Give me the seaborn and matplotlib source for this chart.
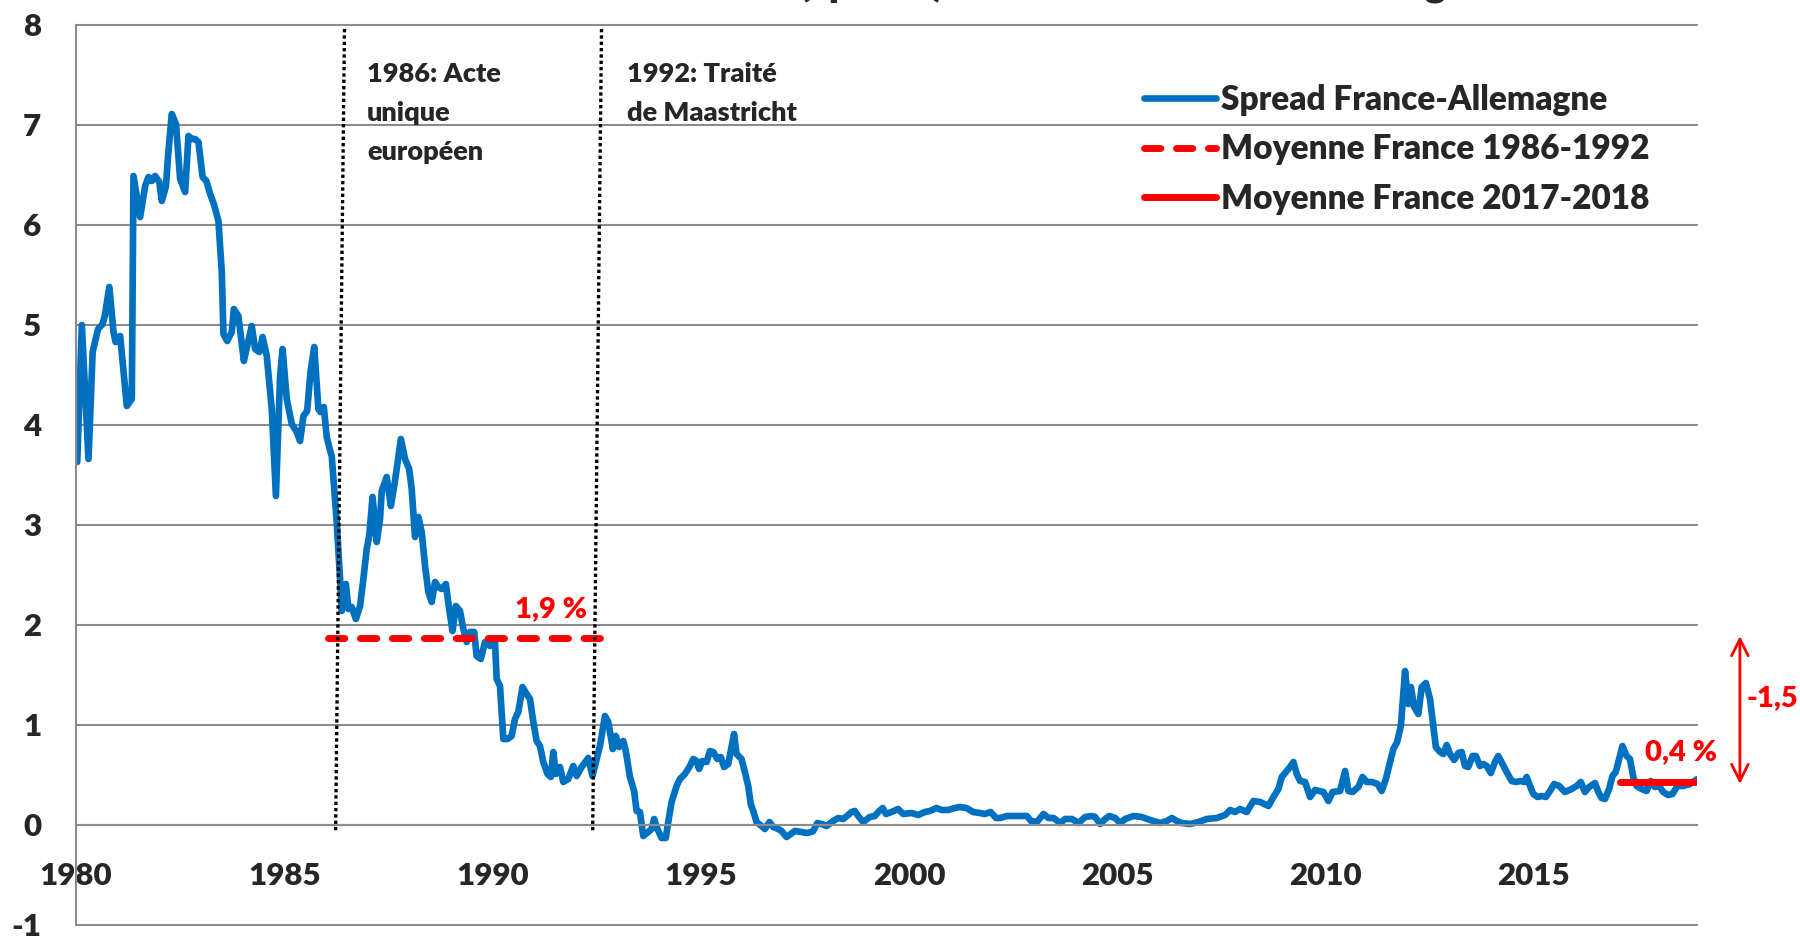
import matplotlib
matplotlib.use("Agg")
import matplotlib.pyplot as plt
import pandas as pd
import seaborn as sns

# spread de taux 10 ans France - Allemagne (année décimale)
annees = [
    1980.03, 1980.14, 1980.30, 1980.40, 1980.53, 1980.64, 1980.69, 1980.80, 1980.90, 1980.95,
    1981.06, 1981.22, 1981.34, 1981.38, 1981.54, 1981.66, 1981.74, 1981.82, 1981.90, 1982.00,
    1982.06, 1982.16, 1982.21, 1982.30, 1982.40, 1982.50, 1982.62, 1982.70, 1982.78, 1982.86,
    1982.94, 1983.04, 1983.13, 1983.22, 1983.31, 1983.42, 1983.50, 1983.54, 1983.63, 1983.74,
    1983.79, 1983.90, 1984.03, 1984.11, 1984.22, 1984.30, 1984.40, 1984.48, 1984.58, 1984.70,
    1984.80, 1984.90, 1984.96, 1985.06, 1985.18, 1985.30, 1985.38, 1985.46, 1985.55, 1985.63,
    1985.72, 1985.82, 1985.87, 1985.95, 1986.02, 1986.11, 1986.14, 1986.26, 1986.34, 1986.38,
    1986.48, 1986.54, 1986.62, 1986.72, 1986.82, 1986.90, 1986.98, 1987.04, 1987.12, 1987.22,
    1987.30, 1987.34, 1987.46, 1987.56, 1987.64, 1987.70, 1987.80, 1987.90, 1988.00, 1988.06,
    1988.14, 1988.22, 1988.30, 1988.38, 1988.46, 1988.54, 1988.62, 1988.70, 1988.78, 1988.88,
    1988.96, 1989.04, 1989.12, 1989.22, 1989.30, 1989.38, 1989.46, 1989.56, 1989.62, 1989.72,
    1989.82, 1989.94, 1990.06, 1990.10, 1990.18, 1990.26, 1990.36, 1990.46, 1990.54, 1990.62,
    1990.72, 1990.82, 1990.90, 1990.98, 1991.06, 1991.14, 1991.22, 1991.32, 1991.40, 1991.46,
    1991.52, 1991.62, 1991.70, 1991.82, 1991.94, 1992.02, 1992.14, 1992.30, 1992.40, 1992.58,
    1992.70, 1992.78, 1992.89, 1992.96, 1993.04, 1993.14, 1993.20, 1993.30, 1993.40, 1993.46,
    1993.54, 1993.62, 1993.74, 1993.82, 1993.88, 1993.96, 1994.06, 1994.16, 1994.22, 1994.30,
    1994.42, 1994.50, 1994.62, 1994.74, 1994.82, 1994.90, 1994.96, 1995.04, 1995.14, 1995.22,
    1995.30, 1995.40, 1995.48, 1995.56, 1995.66, 1995.80, 1995.86, 1995.98, 1996.06, 1996.14,
    1996.20, 1996.26, 1996.34, 1996.46, 1996.54, 1996.65, 1996.74, 1996.86, 1996.94, 1997.06,
    1997.16, 1997.26, 1997.42, 1997.54, 1997.66, 1997.70, 1997.80, 1997.90, 1998.02, 1998.18,
    1998.30, 1998.42, 1998.54, 1998.62, 1998.70, 1998.78, 1998.90, 1999.06, 1999.18, 1999.26,
    1999.37, 1999.45, 1999.58, 1999.74, 1999.86, 2000.06, 2000.22, 2000.38, 2000.50, 2000.66,
    2000.78, 2000.94, 2001.10, 2001.22, 2001.38, 2001.54, 2001.70, 2001.82, 2001.96, 2002.09,
    2002.19, 2002.35, 2002.55, 2002.71, 2002.83, 2002.93, 2003.07, 2003.23, 2003.35, 2003.47,
    2003.63, 2003.75, 2003.91, 2004.07, 2004.23, 2004.39, 2004.47, 2004.59, 2004.71, 2004.81,
    2004.95, 2005.07, 2005.19, 2005.39, 2005.59, 2005.79, 2006.03, 2006.19, 2006.31, 2006.43,
    2006.55, 2006.75, 2006.95, 2007.15, 2007.39, 2007.59, 2007.71, 2007.83, 2007.95, 2008.11,
    2008.27, 2008.43, 2008.63, 2008.75, 2008.87, 2008.95, 2009.07, 2009.15, 2009.23, 2009.31,
    2009.39, 2009.51, 2009.63, 2009.75, 2009.95, 2010.07, 2010.17, 2010.35, 2010.47, 2010.55,
    2010.65, 2010.79, 2010.89, 2010.99, 2011.11, 2011.25, 2011.35, 2011.45, 2011.55, 2011.63,
    2011.72, 2011.81, 2011.91, 2011.99, 2012.05, 2012.13, 2012.23, 2012.31, 2012.41, 2012.51,
    2012.59, 2012.65, 2012.75, 2012.83, 2012.91, 2012.99, 2013.09, 2013.19, 2013.27, 2013.35,
    2013.43, 2013.53, 2013.61, 2013.71, 2013.79, 2013.87, 2013.97, 2014.07, 2014.15, 2014.25,
    2014.35, 2014.47, 2014.57, 2014.69, 2014.77, 2014.83, 2014.91, 2014.99, 2015.09, 2015.19,
    2015.29, 2015.39, 2015.49, 2015.61, 2015.75, 2015.91, 2016.03, 2016.13, 2016.23, 2016.33,
    2016.47, 2016.55, 2016.63, 2016.71, 2016.81, 2016.89, 2016.97, 2017.05, 2017.13, 2017.23,
    2017.31, 2017.39, 2017.47, 2017.59, 2017.71, 2017.81, 2017.91, 2018.01, 2018.11, 2018.23,
    2018.33, 2018.45, 2018.59, 2018.75, 2018.93,
]
spread = [
    3.63, 5.00, 3.66, 4.73, 4.96, 5.01, 5.09, 5.38, 4.93, 4.83,
    4.89, 4.19, 4.26, 6.49, 6.08, 6.39, 6.48, 6.44, 6.49, 6.43,
    6.24, 6.39, 6.69, 7.11, 7.01, 6.46, 6.33, 6.89, 6.86, 6.86,
    6.83, 6.48, 6.44, 6.31, 6.21, 6.04, 5.53, 4.91, 4.84, 4.93,
    5.16, 5.09, 4.64, 4.79, 4.99, 4.76, 4.73, 4.88, 4.69, 4.16,
    3.29, 4.49, 4.76, 4.26, 4.01, 3.93, 3.84, 4.09, 4.14, 4.53,
    4.78, 4.16, 4.13, 4.18, 3.88, 3.73, 3.69, 3.03, 2.46, 2.14,
    2.41, 2.16, 2.18, 2.06, 2.19, 2.46, 2.76, 2.89, 3.28, 2.83,
    3.06, 3.34, 3.48, 3.19, 3.39, 3.56, 3.86, 3.66, 3.56, 3.36,
    2.88, 3.08, 2.93, 2.59, 2.33, 2.23, 2.43, 2.38, 2.36, 2.41,
    2.16, 1.94, 2.19, 2.14, 1.96, 1.83, 1.93, 1.93, 1.69, 1.66,
    1.83, 1.79, 1.83, 1.46, 1.39, 0.86, 0.86, 0.89, 1.06, 1.13,
    1.38, 1.31, 1.26, 1.03, 0.84, 0.79, 0.63, 0.51, 0.48, 0.73,
    0.51, 0.58, 0.43, 0.46, 0.59, 0.49, 0.58, 0.67, 0.49, 0.79,
    1.09, 1.03, 0.76, 0.89, 0.78, 0.84, 0.74, 0.48, 0.34, 0.14,
    0.13, -0.11, -0.07, -0.04, 0.06, -0.04, -0.13, -0.13, 0.03, 0.23,
    0.39, 0.46, 0.51, 0.59, 0.66, 0.64, 0.56, 0.64, 0.63, 0.74,
    0.73, 0.66, 0.68, 0.58, 0.61, 0.91, 0.71, 0.66, 0.53, 0.39,
    0.21, 0.14, 0.03, -0.01, -0.04, 0.03, -0.02, -0.04, -0.06, -0.12,
    -0.09, -0.06, -0.07, -0.08, -0.07, -0.06, 0.02, 0.01, -0.01, 0.04,
    0.07, 0.06, 0.10, 0.13, 0.14, 0.09, 0.03, 0.08, 0.09, 0.13,
    0.17, 0.11, 0.13, 0.16, 0.11, 0.12, 0.10, 0.13, 0.14, 0.17,
    0.15, 0.15, 0.17, 0.18, 0.17, 0.13, 0.12, 0.11, 0.13, 0.07,
    0.07, 0.09, 0.09, 0.09, 0.09, 0.04, 0.03, 0.11, 0.07, 0.07,
    0.02, 0.06, 0.06, 0.02, 0.08, 0.09, 0.08, 0.01, 0.06, 0.09,
    0.07, 0.02, 0.06, 0.09, 0.08, 0.05, 0.02, 0.04, 0.07, 0.04,
    0.02, 0.01, 0.03, 0.06, 0.07, 0.10, 0.15, 0.13, 0.16, 0.13,
    0.24, 0.23, 0.19, 0.28, 0.36, 0.48, 0.54, 0.58, 0.63, 0.51,
    0.44, 0.43, 0.28, 0.35, 0.33, 0.24, 0.33, 0.34, 0.54, 0.34,
    0.33, 0.38, 0.48, 0.43, 0.43, 0.41, 0.34, 0.46, 0.63, 0.76,
    0.83, 0.99, 1.54, 1.21, 1.38, 1.18, 1.11, 1.38, 1.42, 1.26,
    0.99, 0.78, 0.73, 0.71, 0.80, 0.71, 0.65, 0.72, 0.73, 0.59,
    0.58, 0.69, 0.69, 0.59, 0.61, 0.59, 0.52, 0.63, 0.69, 0.61,
    0.53, 0.44, 0.43, 0.44, 0.43, 0.48, 0.39, 0.31, 0.28, 0.29,
    0.28, 0.34, 0.41, 0.39, 0.33, 0.36, 0.39, 0.43, 0.33, 0.38,
    0.42, 0.33, 0.27, 0.26, 0.36, 0.49, 0.53, 0.66, 0.79, 0.69,
    0.66, 0.48, 0.39, 0.36, 0.34, 0.44, 0.38, 0.39, 0.33, 0.30,
    0.31, 0.39, 0.39, 0.41, 0.46,
]

# moyennes sur deux périodes
moyenne_1986_1992 = 1.87
periode_1986_1992 = [1986.06, 1992.57]
moyenne_2017_2018 = 0.43
periode_2017_2018 = [2017.07, 2018.86]

GRIS = "#8c8c8c"
BLEU = "#0070C0"

sns.set_style("white")
plt.rcParams["font.family"] = ["Lato", "DejaVu Sans"]
plt.rcParams["font.weight"] = "heavy"
plt.rcParams["axes.unicode_minus"] = False

df = pd.DataFrame({"annee": annees, "spread": spread})

fig = plt.figure(figsize=(18, 9.4), dpi=100)
ax = fig.add_axes([76 / 1800, 15 / 940, 1621 / 1800, 900 / 940])

sns.lineplot(data=df, x="annee", y="spread", ax=ax, color=BLEU, lw=4.8,
             estimator=None, sort=False, label="Spread France-Allemagne")
ax.lines[0].set_solid_joinstyle("round")
ax.lines[0].set_solid_capstyle("round")

ax.plot(periode_1986_1992, [moyenne_1986_1992] * 2, color="red", lw=5,
        dashes=(2.35, 2.25), dash_capstyle="round", label="Moyenne France 1986-1992")
ax.plot(periode_2017_2018, [moyenne_2017_2018] * 2, color="red", lw=5,
        solid_capstyle="round", label="Moyenne France 2017-2018")

# lignes pointillées des deux traités (légèrement penchées comme sur l'original)
ax.plot([1986.446, 1986.233], [7.96, -0.07], color="black", lw=2.4, dashes=(1, 0.9), zorder=5)
ax.plot([1992.618, 1992.405], [7.96, -0.07], color="black", lw=2.4, dashes=(1, 0.9), zorder=5)

ax.text(1986.99, 7.63, "1986: Acte\nunique\neuropéen", fontsize=19.5, va="top", linespacing=1.74)
ax.text(1993.24, 7.63, "1992: Traité\nde Maastricht", fontsize=19.5, va="top", linespacing=1.74)

ax.text(1992.27, 2.08, "1,9 %", color="red", fontsize=21, ha="right", va="baseline")
ax.text(2017.67, 0.65, "0,4 %", color="red", fontsize=21, ha="left", va="baseline", clip_on=False)

ax.annotate("", xy=(2019.95, 1.89), xytext=(2019.95, 0.41), annotation_clip=False,
            arrowprops=dict(arrowstyle="<->,head_length=12,head_width=6", mutation_scale=1,
                            color="red", lw=2, shrinkA=0, shrinkB=0))
ax.text(2020.12, 1.19, "-1,5", color="red", fontsize=21, ha="left", va="baseline", clip_on=False)

# titre coupé en haut de l'image
fig.text(0.5 - 40 / 1800, 1 + 5 / 940,
         "Écart de taux d'intérêt à 10 ans (spread) entre la France et l'Allemagne",
         ha="center", va="baseline", fontsize=29)

ax.set_xlim(1980, 2018.92)
ax.set_ylim(-1, 8)
ax.set_yticks(range(-1, 9))
ax.set_xticks(range(1980, 2019))
ax.set_xticklabels([str(a) if a % 5 == 0 else "" for a in range(1980, 2019)])
ax.set_xlabel("")
ax.set_ylabel("")

ax.yaxis.grid(True, color=GRIS, lw=1.5)
ax.xaxis.grid(False)
for gl in ax.get_ygridlines():
    gl.set_clip_on(False)

for side in ["top", "right"]:
    ax.spines[side].set_visible(False)
ax.spines["bottom"].set_position(("data", 0))
for side in ["left", "bottom"]:
    ax.spines[side].set_color(GRIS)
    ax.spines[side].set_linewidth(1.5)

ax.tick_params(axis="y", length=8, width=1.5, color=GRIS, pad=17, labelsize=22.5)
ax.tick_params(axis="x", direction="out", length=8.6, width=1.5, color=GRIS, pad=18, labelsize=22.5)

ax.legend(loc="upper left", bbox_to_anchor=(1144 / 1800, 1 - 84 / 940),
          bbox_transform=fig.transFigure, frameon=False, fontsize=24,
          handlelength=2.15, handletextpad=0.15, labelspacing=0.52,
          borderpad=0, borderaxespad=0)

fig.savefig("out.png", dpi=100)
